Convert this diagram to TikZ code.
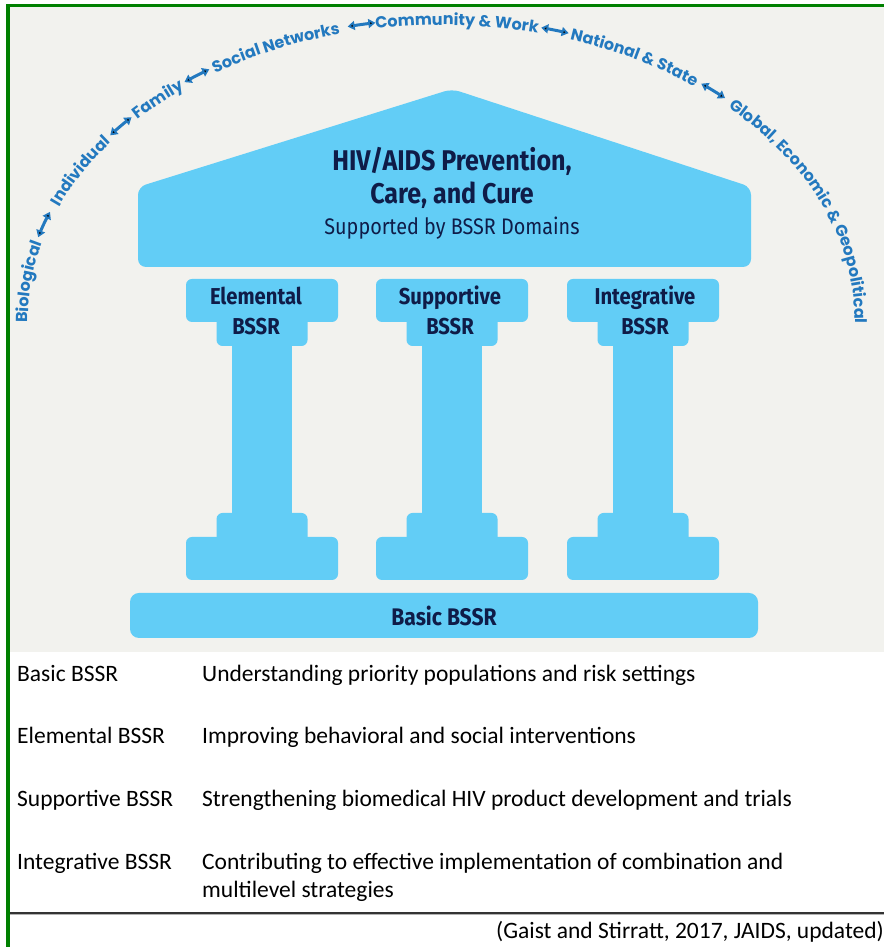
\documentclass[tikz,border=0pt]{standalone}
\usepackage{fontspec}
\setmainfont{Carlito}
\newfontfamily\housefont{Fira Sans}[FakeStretch=0.88]
\newfontfamily\ringfont{Poppins}
\usetikzlibrary{decorations.text,arrows.meta}

\definecolor{paper}{HTML}{F2F2EE}
\definecolor{pillar}{HTML}{62CDF6}
\definecolor{ink}{HTML}{0F1C48}
\definecolor{ring}{HTML}{2379BF}
\definecolor{frame}{HTML}{008000}

% #1 centre angle, #2 half span, #3 text -- set along the elliptic arch
\newcommand\ringlabel[3]{%
  \begingroup\ringfont\bfseries\fontsize{16}{18}\selectfont
  \path[decorate,decoration={text along path,text align=center,
      text color=ring,text={#3}}]
    ({441.5+413.5*cos(#1+#2)},{627+295*sin(#1+#2)})
    arc[start angle={#1+#2},end angle={#1-#2},x radius=413.5,y radius=295];
  \endgroup}

\begin{document}
\begin{tikzpicture}[x=1pt,y=1pt,
  block/.style={fill=pillar,rounded corners=6pt},
  shaft/.style={fill=pillar},
  roofbig/.style={font=\housefont\bfseries\fontsize{28.5}{32}\selectfont,text=ink,anchor=base,inner sep=0pt},
  roofsmall/.style={font=\housefont\fontsize{22.5}{26}\selectfont,text=ink,anchor=base,inner sep=0pt},
  colname/.style={font=\housefont\bfseries\fontsize{23}{26}\selectfont,text=ink,anchor=base,inner sep=0pt},
  basename/.style={font=\housefont\bfseries\fontsize{24}{27}\selectfont,text=ink,anchor=base,inner sep=0pt},
  rowtext/.style={font=\fontsize{23.5}{28}\selectfont,text=black,anchor=base west,inner sep=0pt},
  ringarrow/.style={draw=ring,line width=3pt,
      arrows={Triangle[length=7pt,width=9pt]-Triangle[length=7pt,width=9pt]}}]

\useasboundingbox (0,0) rectangle (884,947);
\fill[white] (0,0) rectangle (884,947);

% shaded panel and green frame
\fill[paper] (10,295) rectangle (884,940);
\fill[frame] (6,0) rectangle (10,943);
\fill[frame] (6,940) rectangle (884,943);

% roof
\fill[pillar,rounded corners=8pt] (138,680) -- (138,760) -- (452,858) -- (751,760) -- (751,680) -- cycle;
\node[roofbig]   (title1) at (452,776) {HIV/AIDS Prevention,};
\node[roofbig]   (title2) at (452,743) {Care, and Cure};
\node[roofsmall] (title3) at (452,712) {Supported by BSSR Domains};

% three columns: centre, label centre, name
\foreach \c/\t/\nm/\lab in {262/256/elem/Elemental,452/450/supp/Supportive,643/645/integ/Integrative}{
  \fill[block] (\c-76,625) rectangle (\c+76,668);
  \fill[block] (\c-45.5,601) rectangle (\c+45.5,640);
  \fill[shaft] (\c-30,425) rectangle (\c+30,610);
  \fill[block] (\c-45.5,400) rectangle (\c+45.5,434);
  \fill[block] (\c-76,367) rectangle (\c+76,410);
  \node[colname] (\nm-a) at (\t,642) {\lab};
  \node[colname] (\nm-b) at (\t,612) {BSSR};
}

% base
\fill[pillar,rounded corners=9pt] (130,309) rectangle (758,354);
\node[basename] (basic) at (444,321) {Basic BSSR};

% arch of levels
\ringlabel{172.8}{13}{Biological}
\ringlabel{151.2}{20}{Individual}
\ringlabel{133.5}{16}{Family}
\ringlabel{114.2}{20}{Social Networks}
\ringlabel{87.8}{20}{Community {\&} Work}
\ringlabel{61.5}{20}{National {\&} State}
\ringlabel{22}{30}{Global, Economic {\&} Geopolitical}

\foreach \t in {161.5,139.9,125.7,101,74.3,49.6}{
  \pgfmathsetmacro\arcspeed{100*sqrt((4.195*sin(\t))^2+(3.01*cos(\t))^2)}
  \pgfmathsetmacro\dt{14/\arcspeed*57.2958}
  \draw[ringarrow] ({441.5+419.5*cos(\t+\dt)},{627+301*sin(\t+\dt)})
    arc[start angle={\t+\dt},end angle={\t-\dt},x radius=419.5,y radius=301];
}

% table of domains
\node[rowtext] (k1) at (17,265) {Basic BSSR};
\node[rowtext] (v1) at (202,265) {Understanding priority populations and risk settings};
\node[rowtext] (k2) at (17,203) {Elemental BSSR};
\node[rowtext] (v2) at (202,203) {Improving behavioral and social interventions};
\node[rowtext] (k3) at (17,140) {Supportive BSSR};
\node[rowtext] (v3) at (202,140) {Strengthening biomedical HIV product development and trials};
\node[rowtext] (k4) at (17,77) {Integrative BSSR};
\node[rowtext] (v4) at (202,77) {Contributing to effective implementation of combination and};
\node[rowtext] (v4b) at (202,49) {multilevel strategies};

\draw[line width=1.6pt,black!80] (10,34) -- (884,34);
\draw[line width=0.8pt,black!30] (10,32.4) -- (884,32.4);
\node[rowtext] (cite) at (496,9) {(Gaist and Stirratt, 2017, JAIDS, updated)};
\end{tikzpicture}
\end{document}
